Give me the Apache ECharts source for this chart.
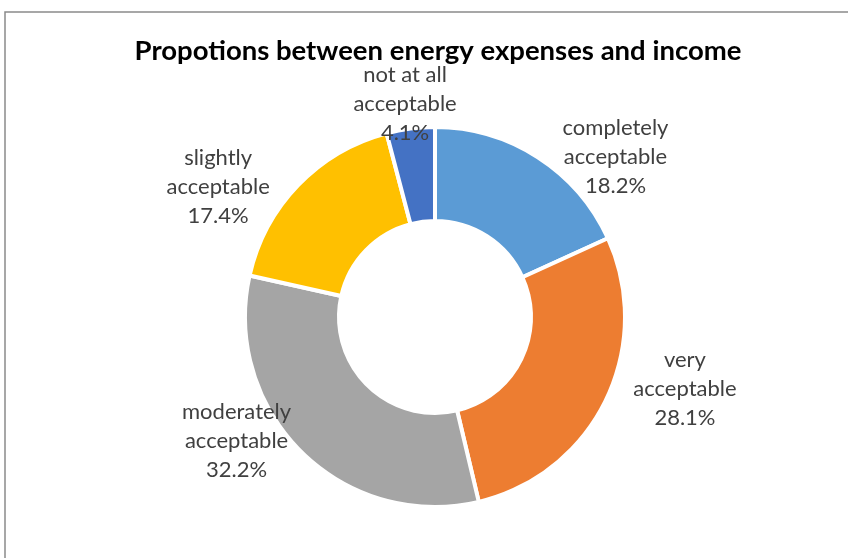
<!DOCTYPE html>
<html>
<head>
<meta charset="utf-8">
<script src="https://cdn.jsdelivr.net/npm/echarts@6/dist/echarts.min.js"></script>
<style>
  html, body { margin: 0; padding: 0; background: #fff; }
  #chart { width: 848px; height: 558px; }
</style>
</head>
<body>
<div id="chart"></div>
<script>
// Share of respondents by how acceptable energy expenses are relative to income
const categories = [
  'completely\nacceptable',
  'very\nacceptable',
  'moderately\nacceptable',
  'slightly\nacceptable',
  'not at all\nacceptable'
];
const shares = [18.2, 28.1, 32.2, 17.4, 4.1];
const sliceColors = ['#5B9BD5', '#ED7D31', '#A5A5A5', '#FFC000', '#4472C4'];

// label anchor around the ring: [angle clockwise from 12 o'clock in degrees, distance from centre in px]
const labelPlacement = [[48.5, 241], [106, 260], [238, 234], [301, 253], [352, 215]];
const CX = 435, CY = 317;

const chart = echarts.init(document.getElementById('chart'));
chart.setOption({
  backgroundColor: '#ffffff',
  animation: false,
  title: {
    text: 'Propotions between energy expenses and income',
    left: 433,
    textAlign: 'center',
    top: 32,
    textStyle: { fontFamily: 'Lato', fontWeight: 'bold', fontSize: 27.5, color: '#000000' }
  },
  graphic: [{
    type: 'rect',
    shape: { x: 5, y: 12, width: 900, height: 600 },
    style: { fill: 'none', stroke: '#8a8a8a', lineWidth: 1.5 },
    silent: true
  }],
  series: [{
    type: 'pie',
    center: [CX, CY],
    radius: [96, 190],
    startAngle: 90,
    clockwise: true,
    avoidLabelOverlap: false,
    itemStyle: { borderColor: '#ffffff', borderWidth: 4 },
    label: {
      show: true,
      position: 'outside',
      formatter: p => p.name + '\n' + p.value.toFixed(1) + '%',
      fontFamily: 'Lato',
      fontSize: 22,
      lineHeight: 29,
      color: '#404040',
      align: 'center'
    },
    labelLine: { show: false },
    labelLayout: p => {
      const [deg, dist] = labelPlacement[p.dataIndex];
      const a = deg * Math.PI / 180;
      return {
        x: CX + dist * Math.sin(a),
        y: CY - dist * Math.cos(a),
        align: 'center',
        verticalAlign: 'middle'
      };
    },
    data: categories.map((name, i) => ({
      name,
      value: shares[i],
      itemStyle: { color: sliceColors[i] }
    }))
  }]
});
</script>
</body>
</html>
